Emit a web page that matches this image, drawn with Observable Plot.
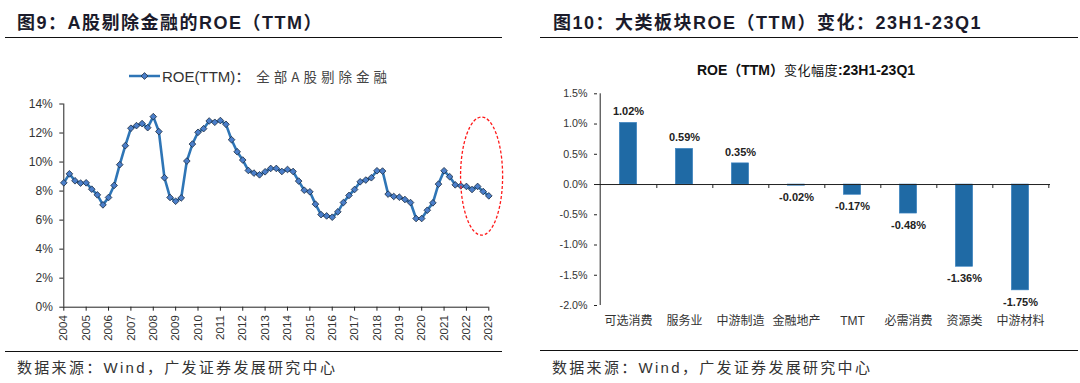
<!DOCTYPE html>
<html>
<head>
<meta charset="utf-8">
<script src="https://cdn.jsdelivr.net/npm/d3@7"></script>
<script src="https://cdn.jsdelivr.net/npm/@observablehq/plot@0.6"></script>
<style>
  html, body { margin: 0; padding: 0; background: #fff; }
  #root { position: relative; width: 1080px; height: 383px; overflow: hidden; background: #fff;
          font-family: "Liberation Sans", Arial, "Noto Sans CJK SC", sans-serif; color: #222; }
  .title { position: absolute; top: 8px; font-size: 18px; letter-spacing: 1.5px; font-weight: bold; color: #1b1b2b; white-space: nowrap;
           font-family: "Liberation Sans", Arial, "Noto Sans CJK SC", sans-serif; }
  .hr { position: absolute; height: 0; border-top: 1.6px solid #111; }
  .src { position: absolute; top: 356px; font-size: 15px; letter-spacing: 2.3px; color: #333; white-space: nowrap;
         font-family: "Liberation Sans", Arial, "Noto Sans CJK SC", sans-serif; }
  .plotbox { position: absolute; top: 40px; }
  #legend { position: absolute; left: 128px; top: 65px; display: flex; align-items: center; white-space: nowrap;
            font-size: 15px; color: #333; }
  #legend .cjk { font-family: "Noto Sans CJK SC", sans-serif; font-size: 13.5px; letter-spacing: 4px; color: #444; margin-left: 6px; }
  #subtitle { position: absolute; left: 540px; width: 532px; top: 59px; text-align: center; font-size: 14px; color: #111; white-space: nowrap; }
  #subtitle b { font-weight: bold; }
  #subtitle span { font-family: "Noto Sans CJK SC", sans-serif; font-size: 13px; letter-spacing: 0.5px; }
</style>
</head>
<body>
<div id="root">
  <div class="title" style="left:17px">图9：A股剔除金融的ROE（TTM）</div>
  <div class="hr" style="left:5px; width:497px; top:37px"></div>
  <div class="title" style="left:553px">图10：大类板块ROE（TTM）变化：23H1-23Q1</div>
  <div class="hr" style="left:540px; width:538px; top:37px"></div>

  <div id="left" class="plotbox" style="left:0px"></div>
  <div id="right" class="plotbox" style="left:540px"></div>

  <div id="legend">
    <svg width="33" height="12" style="margin-right:1px">
      <line x1="1" y1="6" x2="32" y2="6" stroke="#2e75b6" stroke-width="2.5"></line>
      <path d="M16.5,2.6 L19.9,6 L16.5,9.4 L13.1,6 Z" fill="#4a7ec9" stroke="#1b2b3f" stroke-width="0.8"></path>
    </svg>
    <span>ROE(TTM)：</span><span class="cjk">全部A股剔除金融</span>
  </div>
  <div id="subtitle"><b>ROE（TTM）</b><span>变化幅度</span><b>:23H1-23Q1</b></div>

  <div class="hr" style="left:5px; width:497px; top:351px; border-top-width:1.2px"></div>
  <div class="hr" style="left:540px; width:538px; top:350px; border-top-width:1.4px"></div>
  <div class="src" style="left:17px">数据来源：Wind，广发证券发展研究中心</div>
  <div class="src" style="left:552px">数据来源：Wind，广发证券发展研究中心</div>
</div>
<script>
// ---------------- Data: left chart (quarterly, 2004Q1 - 2023Q1) ----------------
const startYear = 2004;
const roeTTM = [
  8.57, 9.19, 8.71, 8.55, 8.57, 8.13, 7.74, 7.05, 7.56, 8.39,
  9.82, 11.13, 12.33, 12.51, 12.65, 12.37, 13.13, 12.10, 8.92, 7.56,
  7.30, 7.53, 10.07, 11.24, 12.05, 12.30, 12.83, 12.74, 12.86, 12.60,
  11.54, 10.71, 10.14, 9.42, 9.24, 9.12, 9.33, 9.56, 9.56, 9.35,
  9.49, 9.35, 8.69, 8.06, 7.95, 7.10, 6.38, 6.29, 6.20, 6.57,
  7.21, 7.70, 8.11, 8.64, 8.76, 8.92, 9.40, 9.38, 7.79, 7.63,
  7.58, 7.42, 7.21, 6.11, 6.11, 6.68, 7.19, 8.48, 9.40, 8.99,
  8.43, 8.36, 8.32, 8.11, 8.32, 7.97, 7.67
];
const yearTicks = d3.range(2004, 2024);
const leftYTicks = [0, 2, 4, 6, 8, 10, 12, 14];
// highlight ellipse (data units): around 2022-2023, ROE ~9%
const highlight = {x: 2022.7, y: 9.0, rx: 0.94, ry: 4.07};

// ---------------- Data: right chart ----------------
const sectors = ["可选消费", "服务业", "中游制造", "金融地产", "TMT", "必需消费", "资源类", "中游材料"];
const roeChange = [1.02, 0.59, 0.35, -0.02, -0.17, -0.48, -1.36, -1.75];
const rightYTicks = [-2.0, -1.5, -1.0, -0.5, 0.0, 0.5, 1.0, 1.5];

const font = "'Liberation Sans', Arial, 'Noto Sans CJK SC', sans-serif";

// ---------------- Left chart ----------------
const series = roeTTM.map((v, i) => ({t: startYear + i / 4, v}));
const lw = 540, lh = 310, lml = 63.3, lmr = 51.7, lmt = 63.5, lmb = 43.3;
const left = Plot.plot({
  width: lw, height: lh,
  marginLeft: lml, marginRight: lmr, marginTop: lmt, marginBottom: lmb,
  style: {fontFamily: font, fontSize: "11.5px", color: "#333", background: "transparent"},
  x: {domain: [yearTicks[0], yearTicks[yearTicks.length - 1]], axis: null, label: null},
  y: {domain: [leftYTicks[0], leftYTicks[leftYTicks.length - 1]], axis: null, label: null},
  marks: [
    Plot.axisY(leftYTicks, {label: null, tickSize: 4, tickPadding: 7, tickFormat: d => d + "%", fontSize: 12, stroke: "#222"}),
    Plot.axisX(yearTicks, {label: null, tickSize: 4, tickPadding: 4, tickRotate: -90, tickFormat: d => String(d), fontSize: 11.5, stroke: "#222"}),
    Plot.ruleX([yearTicks[0]], {stroke: "#222", strokeWidth: 1}),
    Plot.ruleY([0], {stroke: "#222", strokeWidth: 1}),
    Plot.line(series, {x: "t", y: "v", stroke: "#2e75b6", strokeWidth: 2.6}),
    Plot.dot(series, {x: "t", y: "v", symbol: "diamond2", r: 3.0, fill: "#4a7ec9", stroke: "#1b2b3f", strokeWidth: 0.8})
  ]
});
{
  const sx = left.scale("x"), sy = left.scale("y");
  const cx = sx.apply(highlight.x), cy = sy.apply(highlight.y);
  const rx = Math.abs(sx.apply(highlight.x + highlight.rx) - cx);
  const ry = Math.abs(sy.apply(highlight.y + highlight.ry) - cy);
  d3.select(left).append("ellipse")
    .attr("cx", cx).attr("cy", cy).attr("rx", rx).attr("ry", ry)
    .attr("fill", "none").attr("stroke", "#ff1a1a").attr("stroke-width", 1.3)
    .attr("stroke-dasharray", "3,2");
}
document.getElementById("left").appendChild(left);

// ---------------- Right chart ----------------
const bars = sectors.map((s, i) => ({s, v: roeChange[i]}));
const rw = 540, rh = 310, rml = 57, rmr = 30, rmt = 53.3, rmb = 45;
const step = (rw - rml - rmr) / sectors.length;
const barW = 18;
const right = Plot.plot({
  width: rw, height: rh,
  marginLeft: rml, marginRight: rmr, marginTop: rmt, marginBottom: rmb,
  style: {fontFamily: font, fontSize: "10.7px", color: "#333", background: "transparent"},
  x: {domain: sectors, padding: 0, axis: null, label: null},
  y: {domain: [rightYTicks[0], rightYTicks[rightYTicks.length - 1]], axis: null, label: null},
  marks: [
    Plot.axisY(rightYTicks, {label: null, tickSize: 3, tickPadding: 7, tickFormat: d => d.toFixed(1) + "%", fontSize: 10.7, stroke: "#222"}),
    Plot.axisX(sectors, {label: null, tickSize: 0, tickPadding: 11, fontSize: 12, fill: "#333"}),
    Plot.barY(bars, {x: "s", y1: 0, y2: "v", fill: "#1f6aa5", stroke: "#3f86c4", strokeWidth: 0.6,
      insetLeft: (step - barW) / 2, insetRight: (step - barW) / 2}),
    Plot.ruleX([sectors[0]], {dx: -step / 2, stroke: "#222", strokeWidth: 1}),
    Plot.ruleY([0], {stroke: "#222", strokeWidth: 1}),
    Plot.ruleX(sectors, {x: d => d, y1: 0, y2: 0, dx: step / 2, insetBottom: -4, stroke: "#222", strokeWidth: 1}),
    Plot.text(bars, {x: "s", y: "v", text: d => d.v.toFixed(2) + "%",
      fontWeight: "bold", fontSize: 11, fill: "#222", filter: d => d.v >= 0, dy: -11}),
    Plot.text(bars, {x: "s", y: "v", text: d => d.v.toFixed(2) + "%",
      fontWeight: "bold", fontSize: 11, fill: "#222", filter: d => d.v < 0, dy: 12})
  ]
});
document.getElementById("right").appendChild(right);
</script>
</body>
</html>
